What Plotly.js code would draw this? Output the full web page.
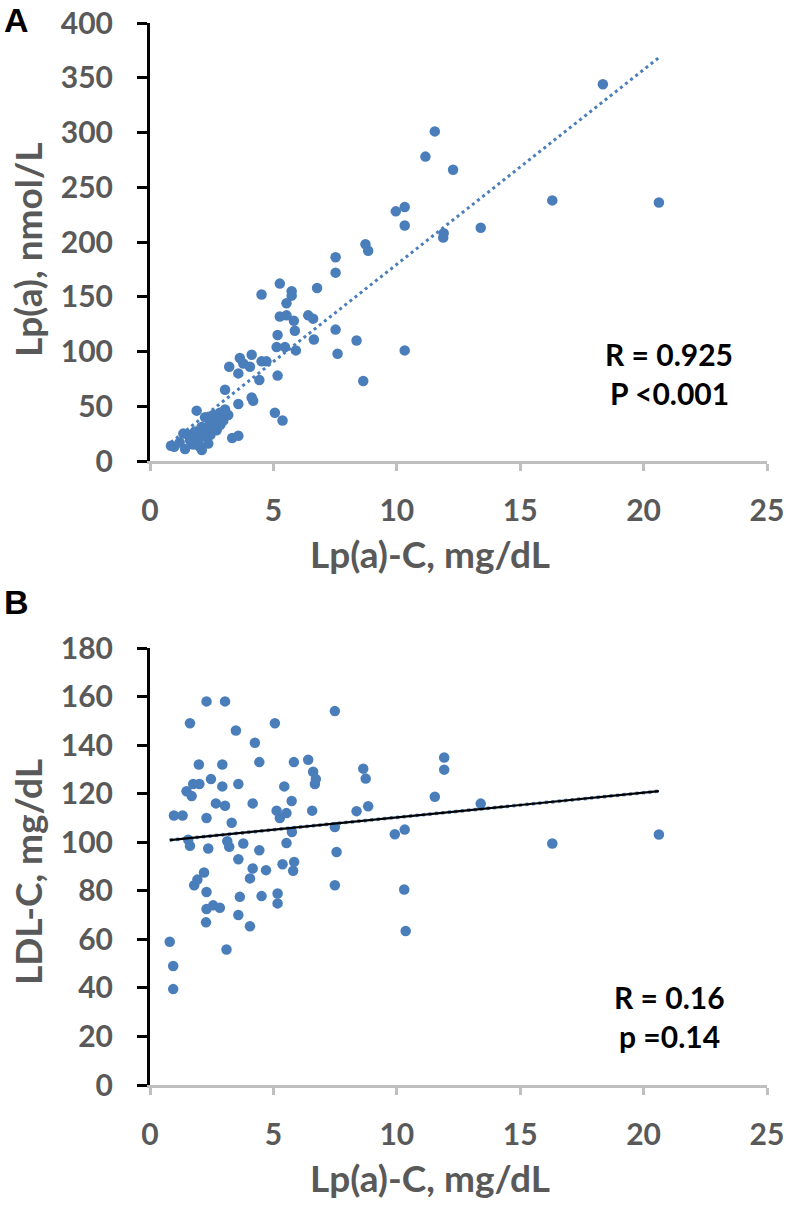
<!DOCTYPE html>
<html>
<head>
<meta charset="utf-8">
<script src="https://cdn.plot.ly/plotly-3.0.1.min.js"></script>
<style>
html,body{margin:0;padding:0;background:#fff;}
#chart{width:786px;height:1205px;}
</style>
</head>
<body>
<div id="chart"></div>
<script>
// Panel A: Lp(a)-C (mg/dL) vs Lp(a) (nmol/L)
const lpaC_A = [18.35,11.54,11.16,12.28,9.96,10.32,10.32,16.3,20.62,11.9,11.88,13.4,10.32,
  8.73,8.84,7.52,7.52,5.26,4.52,5.74,5.74,6.77,5.53,5.26,5.53,5.83,5.87,6.41,6.61,6.64,7.52,8.37,7.6,8.64,
  5.17,5.13,5.47,5.91,5.17,5.06,5.37,3.64,3.78,4.12,4.05,4.52,4.72,3.21,3.58,4.43,3.04,4.12,4.18,3.58,1.89,
  0.85,0.98,1.42,1.35,1.62,1.82,1.96,2.02,2.09,2.29,2.36,2.43,2.56,2.83,3.04,3.17,2.7,2.23,2.97,3.33,3.58,
  1.55,1.75,2.15,2.5,2.65,1.9,2.45,2.85,1.2,2.1];
const lpa_nmol = [344,301,278,266,228,232,215,238,236,208,204,213,101,
  198,192,186,172,162,152,155,151,158,144,132,133,128,119,133,130,111,120,110,98,73,
  115,104,104,101,78,44,37,94,89,97,86,91,91,86,80,74,65,58,55,52,46,
  14,13,11,25,19,27,19,13,31,22,16,34,42,44,47,42,28,40,37,21,23,
  24,15,27,30,36,22,24,33,17,10];

// Panel B: Lp(a)-C (mg/dL) vs LDL-C (mg/dL)
const lpaC_B = [2.29,3.04,1.62,3.48,5.06,4.25,1.98,2.93,4.43,5.83,6.41,6.61,6.72,6.68,7.49,
  1.48,1.75,2.0,1.69,2.47,2.93,3.58,2.67,3.04,4.16,5.44,5.74,5.13,5.26,5.53,6.57,0.97,1.32,2.29,3.31,
  1.55,1.62,2.36,3.13,3.21,3.78,4.43,5.53,5.75,3.58,4.16,4.05,4.7,5.37,5.84,5.8,2.19,1.92,1.79,2.29,
  3.64,4.52,5.17,5.17,2.29,2.56,2.83,3.58,2.27,4.05,0.8,0.94,0.94,3.1,7.49,7.56,7.49,
  8.64,8.74,11.92,11.92,11.54,8.37,8.84,9.92,10.32,10.3,10.36,13.4,16.3,20.62];
const ldlC = [158,158,149,146,149,141,132,132,133,133,134,129,126,124,154,
  121,124,124,119,126,123,124,116,115,116,123,117,113,110,112,113,111,111,110,108,
  101,98.5,97.4,100.4,98.1,99.5,96.7,99.7,104.2,93,89.2,85.1,88.5,90.9,91.9,88.2,87.5,84.6,82.3,79.5,
  77.5,77.8,78.9,74.8,72.5,74,73,70,67,65.4,59,49,39.5,55.8,106.3,96,82.3,
  130.3,126.2,134.9,129.9,118.7,112.8,114.8,103.3,105.2,80.5,63.4,115.9,99.5,103.2];

const xTicks = [0,5,10,15,20,25];
const yTicksA = [0,50,100,150,200,250,300,350,400];
const yTicksB = [0,20,40,60,80,100,120,140,160,180];

const titleX = "Lp(a)-C, mg/dL";
const titleYA = "Lp(a), nmol/L";
const titleYB = "LDL-C, mg/dL";
const statsA = ["R = 0.925", "P <0.001"];
const statsB = ["R = 0.16", "p =0.14"];

function linFit(x, y) {
  const n = x.length;
  let sx=0, sy=0, sxx=0, sxy=0;
  for (let i=0;i<n;i++){ sx+=x[i]; sy+=y[i]; sxx+=x[i]*x[i]; sxy+=x[i]*y[i]; }
  const b = (n*sxy - sx*sy)/(n*sxx - sx*sx);
  const a = (sy - b*sx)/n;
  const xmin = Math.min(...x), xmax = Math.max(...x);
  return {x:[xmin,xmax], y:[a+b*xmin, a+b*xmax]};
}
const fitA = linFit(lpaC_A, lpa_nmol);
const fitB = linFit(lpaC_B, ldlC);

const BLUE = '#4a7ebb';
const FONT = 'Lato, "Liberation Sans", sans-serif';
const GREY = '#595959';
const tickFont = {family: FONT, size: 30, color: GREY, weight: 700};
const titleFont = {family: FONT, size: 37, color: GREY, weight: 700};
const statFont = {family: FONT, size: 30, color: '#000', weight: 700};
const letterFont = {family:'"Liberation Sans", Arial, sans-serif', size:34, color:'#000', weight:700};

const W = 786, H = 1205;
const xl = 150/W, xr = 767/W;
const domA = [(H-461)/H, (H-23)/H];
const domB = [(H-1085)/H, (H-648)/H];

const traces = [
  {x: lpaC_A, y: lpa_nmol, xaxis:'x', yaxis:'y', type:'scatter', mode:'markers',
   marker:{color:BLUE, size:10.5}, hoverinfo:'skip'},
  {x: fitA.x, y: fitA.y, xaxis:'x', yaxis:'y', type:'scatter', mode:'lines',
   line:{color:BLUE, width:3, dash:'3px,3.5px'}, hoverinfo:'skip'},
  {x: lpaC_B, y: ldlC, xaxis:'x2', yaxis:'y2', type:'scatter', mode:'markers',
   marker:{color:BLUE, size:10.5}, hoverinfo:'skip'},
  {x: fitB.x, y: fitB.y, xaxis:'x2', yaxis:'y2', type:'scatter', mode:'lines',
   line:{color:BLUE, width:3.5, dash:'3px,3.5px'}, hoverinfo:'skip'},
  {x: fitB.x, y: fitB.y, xaxis:'x2', yaxis:'y2', type:'scatter', mode:'lines',
   line:{color:'#000000', width:2.2}, hoverinfo:'skip'}
];

function xAxis(anchor) {
  return {
    domain:[xl, xr], anchor: anchor, range:[0,25], tickvals: xTicks, ticktext: xTicks.map(String),
    showline:true, linecolor:'#bfbfbf', linewidth:3, ticks:'outside', ticklen:7, tickwidth:3,
    tickcolor:'#bfbfbf', showgrid:false, zeroline:false, tickfont: tickFont,
    ticklabelstandoff: 14
  };
}
function yAxis(anchor, dom, range, ticks) {
  return {
    domain: dom, anchor: anchor, range: range, tickvals: ticks, ticktext: ticks.map(String),
    showline:true, linecolor:'#000000', linewidth:3, ticks:'outside', ticklen:10, tickwidth:3,
    tickcolor:'#000000', showgrid:false, zeroline:false, tickfont: tickFont,
    ticklabelstandoff: 18
  };
}

function ann(text, x, y, font, extra) {
  return Object.assign({text:text, xref:'paper', yref:'paper', x:x/W, y:(H-y)/H,
    xanchor:'center', yanchor:'middle', showarrow:false, font:font}, extra || {});
}

const layout = {
  width: W, height: H, showlegend:false,
  paper_bgcolor:'#ffffff', plot_bgcolor:'#ffffff',
  margin:{l:0, r:0, t:0, b:0},
  xaxis: xAxis('y'),
  yaxis: yAxis('x', domA, [0,400], yTicksA),
  xaxis2: xAxis('y2'),
  yaxis2: yAxis('x2', domB, [0,180], yTicksB),
  annotations: [
    ann('A', 2, 20, letterFont, {xanchor:'left'}),
    ann('B', 2, 602, letterFont, {xanchor:'left'}),
    ann(titleX, 430, 553, titleFont),
    ann(titleX, 430, 1177, titleFont),
    ann(titleYA, 27, 250, titleFont, {textangle:-90}),
    ann(titleYB, 27, 872, titleFont, {textangle:-90}),
    ann(statsA[0], 669, 354, statFont),
    ann(statsA[1], 669, 393, statFont),
    ann(statsB[0], 669, 997, statFont),
    ann(statsB[1], 669, 1036, statFont)
  ]
};

Plotly.newPlot('chart', traces, layout, {staticPlot:true, displayModeBar:false});
</script>
</body>
</html>
